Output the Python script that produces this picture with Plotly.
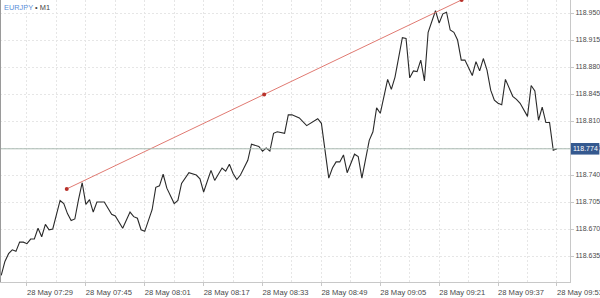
import plotly.graph_objects as go

DAY = "2024-05-28"

times = ["07:22","07:23","07:24","07:25","07:26","07:27","07:28","07:29","07:30","07:31",
         "07:32","07:33","07:34","07:35","07:36","07:37","07:38","07:39","07:40","07:41",
         "07:42","07:43","07:44","07:45","07:46","07:47","07:48","07:50","07:52","07:53",
         "07:55","07:57","07:58","07:59","08:00","08:01","08:02","08:03","08:04","08:05",
         "08:06","08:07","08:09","08:10","08:11","08:13","08:15","08:16","08:17","08:19",
         "08:20","08:22","08:23","08:24","08:25","08:26","08:27","08:29","08:30","08:32",
         "08:33","08:34","08:35","08:36","08:37","08:39","08:40","08:41","08:43","08:45",
         "08:48","08:49","08:51","08:52","08:53","08:54","08:55","08:56","08:58","08:59",
         "09:00","09:02","09:03","09:04","09:05","09:07","09:08","09:09","09:11","09:12",
         "09:13","09:14","09:15","09:16","09:17","09:18","09:20","09:21","09:22","09:23",
         "09:24","09:25","09:26","09:27","09:28","09:30","09:31","09:32","09:33","09:34",
         "09:35","09:36","09:37","09:38","09:39","09:41","09:42","09:43","09:45","09:46",
         "09:47","09:48","09:49","09:50","09:51","09:52","09:53"]

prices = [118.610,118.628,118.638,118.643,118.641,118.653,118.653,118.651,118.657,118.657,
          118.671,118.660,118.676,118.669,118.670,118.688,118.707,118.703,118.690,118.681,
          118.683,118.708,118.730,118.702,118.708,118.692,118.705,118.705,118.689,118.687,
          118.671,118.692,118.686,118.684,118.669,118.667,118.681,118.695,118.724,118.726,
          118.741,118.723,118.703,118.707,118.729,118.743,118.740,118.735,118.718,118.746,
          118.733,118.749,118.745,118.754,118.742,118.734,118.740,118.759,118.780,118.777,
          118.771,118.775,118.771,118.794,118.796,118.794,118.818,118.818,118.814,118.804,
          118.813,118.807,118.736,118.749,118.757,118.757,118.766,118.743,118.767,118.764,
          118.736,118.785,118.796,118.827,118.820,118.864,118.851,118.867,118.918,118.917,
          118.866,118.875,118.874,118.889,118.862,118.925,118.953,118.937,118.949,118.951,
          118.928,118.925,118.915,118.889,118.889,118.869,118.887,118.875,118.891,118.876,
          118.850,118.837,118.833,118.831,118.864,118.842,118.838,118.833,118.816,118.856,
          118.849,118.811,118.828,118.808,118.808,118.772,118.774]

trend_times = ["07:39:48", "08:33:27", "09:27:06"]
trend_prices = [118.722, 118.8445, 118.967]

last_price = 118.774
symbol = "EURJPY"
timeframe = "M1"

x_range = ["07:21:40", "09:56:33"]
y_range = [118.6013, 118.9669]
y_tick0 = 118.635
y_dtick = 0.035
x_tick0 = "07:29"
x_dtick_min = 16

def ts(t):
    if len(t) == 5:
        t += ":00"
    return f"{DAY} {t}"

fig = go.Figure()

fig.add_trace(go.Scatter(
    x=[ts(t) for t in times], y=prices, mode="lines",
    line=dict(color="#2a2a2a", width=1.1), hoverinfo="skip", showlegend=False))

fig.add_trace(go.Scatter(
    x=[ts(t) for t in trend_times], y=trend_prices, mode="lines+markers",
    line=dict(color="#e07a72", width=1),
    marker=dict(color="#b8312a", size=4), hoverinfo="skip", showlegend=False))

fig.add_hline(y=last_price, line=dict(color="#a9bab2", width=1))

font_family = "Liberation Sans, Arial, sans-serif"
grid_col = "#e6e6e6"

fig.update_layout(
    width=600, height=298,
    margin=dict(l=0, r=30, t=0, b=16, autoexpand=False),
    paper_bgcolor="white", plot_bgcolor="white",
    font=dict(family=font_family, size=7, color="#4a4a4a"),
    xaxis=dict(
        type="date", range=[ts(x_range[0]), ts(x_range[1])],
        tick0=ts(x_tick0), dtick=x_dtick_min * 60000,
        tickformat="%d %b %H:%M", ticklabelshift=23, ticklabeloverflow="allow",
        tickfont=dict(size=7.6, color="#4a4a4a"), automargin=False,
        showgrid=True, gridcolor=grid_col, griddash="2px,2px", gridwidth=1,
        minor=dict(tick0=ts(x_tick0), dtick=8 * 60000, showgrid=True,
                   gridcolor=grid_col, griddash="2px,2px", gridwidth=1),
        showline=True, linecolor="#c8c8c8", linewidth=1,
        ticks="outside", ticklen=3, tickcolor="#c8c8c8",
        zeroline=False, fixedrange=True,
    ),
    yaxis=dict(
        range=y_range, side="right", tick0=y_tick0, dtick=y_dtick,
        tickformat=".3f", tickfont=dict(size=7, color="#4a4a4a"), automargin=False,
        showgrid=True, gridcolor=grid_col, griddash="2px,2px", gridwidth=1,
        showline=True, linecolor="#c8c8c8", linewidth=1, mirror=False,
        ticks="outside", ticklen=3, tickcolor="#c8c8c8",
        zeroline=False, fixedrange=True,
    ),
)

# left chart border
fig.add_shape(type="line", xref="paper", yref="paper", x0=0, x1=0, y0=0, y1=1,
              line=dict(color="#9a9a9a", width=2))

# bottom strip
fig.add_shape(type="rect", xref="paper", yref="paper", x0=-0.01, x1=1.06,
              y0=-0.058, y1=-0.08, line=dict(width=0), fillcolor="#f1f1f1", layer="below")

# symbol caption
fig.add_annotation(
    xref="paper", yref="paper", x=0.004, y=0.995, xanchor="left", yanchor="top",
    showarrow=False,
    text=f"<span style='color:#5b8fd8'>{symbol}</span> <span style='color:#444'>• {timeframe}</span>",
    font=dict(size=7.4, family=font_family))

# last price label: box drawn as a shape, text on top
fig.add_shape(type="rect", xref="paper", yref="y", x0=1.0015, x1=1.0515,
              y0=last_price - 0.0075, y1=last_price + 0.0075,
              line=dict(width=0), fillcolor="#35598f")
fig.add_annotation(
    xref="paper", yref="y", x=1.0265, y=last_price, xanchor="center", yanchor="middle",
    showarrow=False, text=f"{last_price:.3f}",
    font=dict(size=7, color="white", family=font_family))

fig.write_html("out.html")
